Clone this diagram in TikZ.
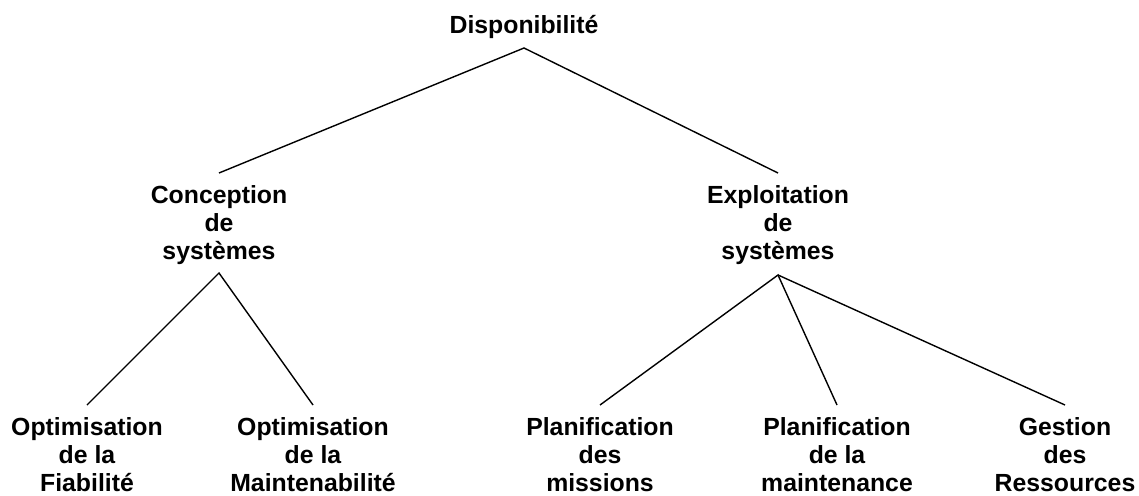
\documentclass[tikz,border=0pt]{standalone}
\usepackage{fontspec}
\setmainfont{Liberation Sans}
\begin{document}
\begin{tikzpicture}[x=1pt,y=-1pt,
  lbl/.style={align=center, anchor=base, inner sep=0pt,
    font={\fontsize{24.8}{28.2}\selectfont\bfseries}},
  link/.style={line width=1.4pt}]
\useasboundingbox (0,0) rectangle (1139,495);
\node[lbl] (dispo) at (524,34) {Disponibilité};
\node[lbl] (conc) at (219,259.4) {Conception\\de\\systèmes};
\node[lbl] (expl) at (778,259.4) {Exploitation\\de\\systèmes};
\node[lbl] (opt1) at (87,491.4) {Optimisation\\de la\\Fiabilité};
\node[lbl] (opt2) at (313,491.4) {Optimisation\\de la\\Maintenabilité};
\node[lbl] (plm) at (600,491.4) {Planification\\des\\missions};
\node[lbl] (plmt) at (837,491.4) {Planification\\de la\\maintenance};
\node[lbl] (gest) at (1065,491.4) {Gestion\\des\\Ressources};
\draw[link] ([yshift=86.4pt]conc.base) -- ([yshift=-14pt]dispo.base) -- ([yshift=86.4pt]expl.base);
\draw[link] ([yshift=86.4pt]opt1.base) -- ([yshift=-13.6pt]conc.base) -- ([yshift=86.4pt]opt2.base);
\draw[link] ([yshift=86.4pt]plm.base) -- ([yshift=-15.6pt]expl.base) -- ([yshift=86.4pt]plmt.base);
\draw[link] ([yshift=-15.6pt]expl.base) -- ([yshift=86.4pt]gest.base);
\end{tikzpicture}
\end{document}
